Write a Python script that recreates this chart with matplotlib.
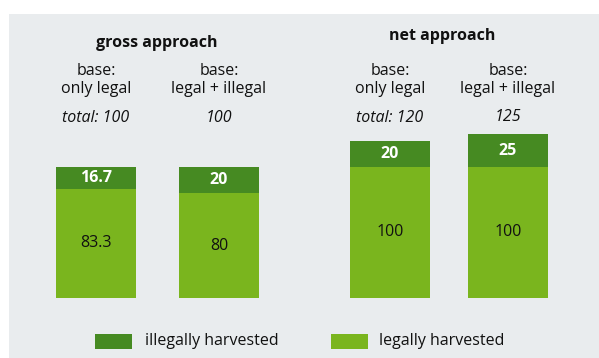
import matplotlib
matplotlib.use("Agg")
import matplotlib.pyplot as plt
from matplotlib.patches import Rectangle

# data
group_titles = ["gross approach", "net approach"]
base_labels = ["base:\nonly legal", "base:\nlegal + illegal", "base:\nonly legal", "base:\nlegal + illegal"]
total_labels = ["total: 100", "100", "total: 120", "125"]
legal = [83.3, 80, 100, 100]
illegal = [16.7, 20, 20, 25]
legal_labels = ["83.3", "80", "100", "100"]
illegal_labels = ["16.7", "20", "20", "25"]
legend_labels = ["illegally harvested", "legally harvested"]

# style
W, H = 599, 358
dark = "#468a22"
light = "#7ab51e"
panel = "#e9ecee"
FONT = "Open Sans"
FS = 11.5
centers = [96, 219, 390, 508]
bar_w = 80
base_px = 298      # pixel (from top) of bar bottom
scale = 1.31       # pixels per unit

fig = plt.figure(figsize=(W / 100, H / 100), dpi=100)
fig.patch.set_facecolor("white")

ax = fig.add_axes([0, 0, 1, 1])
ax.patch.set_alpha(0)
ax.set_xlim(0, W)
ax.set_ylim((base_px - H) / scale, base_px / scale)
ax.axis("off")

def py(p):
    """pixel-from-top -> data y"""
    return (base_px - p) / scale

ax.add_patch(Rectangle((9, py(H)), W - 9, (H - 14) / scale, facecolor=panel,
                       edgecolor="none", zorder=0))

ax.bar(centers, legal, width=bar_w, color=light, zorder=2)
ax.bar(centers, illegal, width=bar_w, bottom=legal, color=dark, zorder=2)

for c, l, i, ll, il in zip(centers, legal, illegal, legal_labels, illegal_labels):
    ax.text(c, l / 2, ll, ha="center", va="center", fontsize=FS, family=FONT, color="#111111", zorder=3)
    ax.text(c, l + i / 2, il, ha="center", va="center", fontsize=FS, family=FONT,
            fontweight="bold", color="white", zorder=3)

title_x = [157, 442]
title_y = [43, 36]
for t, x, y in zip(group_titles, title_x, title_y):
    ax.text(x, py(y), t, ha="center", va="center", fontsize=FS, family=FONT,
            fontweight="bold", color="#111111")

for c, bl in zip(centers, base_labels):
    ax.text(c, py(80), bl, ha="center", va="center", fontsize=FS, family=FONT,
            color="#111111", linespacing=1.2)

tot_y = [118, 118, 118, 117]
for c, tl, y in zip(centers, total_labels, tot_y):
    ax.text(c, py(y), tl, ha="center", va="center", fontsize=FS, family=FONT,
            style="italic", color="#111111")

# legend
leg_patch_x = [95, 331]
leg_text_x = [145, 379]
for px_, tx, col, lab in zip(leg_patch_x, leg_text_x, [dark, light], legend_labels):
    ax.add_patch(Rectangle((px_, py(349)), 37, 15 / scale, facecolor=col, edgecolor="none"))
    ax.text(tx, py(341), lab, ha="left", va="center", fontsize=FS, family=FONT, color="#111111")

fig.savefig("out.png", dpi=100, facecolor=fig.get_facecolor())
